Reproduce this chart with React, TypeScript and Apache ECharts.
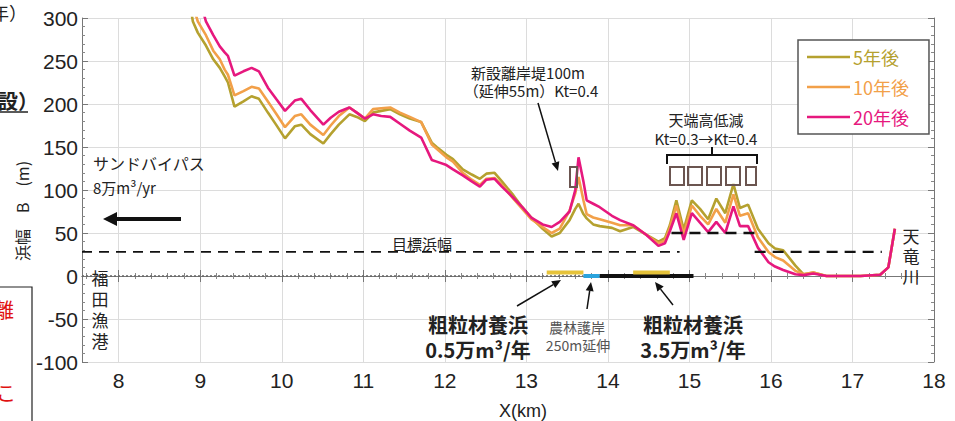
import React, { useEffect, useRef } from "react";
import * as echarts from "echarts";

// Distance along coast X (km)
const xKm = [
  8.85, 8.91, 8.97, 9.07, 9.16, 9.24, 9.3, 9.34, 9.42, 9.53, 9.63, 9.72, 9.83, 9.93, 10.04, 10.16, 10.24, 10.35,
  10.51, 10.6, 10.7, 10.83, 10.92, 11.02, 11.12, 11.22, 11.33, 11.45, 11.57, 11.71, 11.84, 11.9, 12.02, 12.1,
  12.22, 12.33, 12.43, 12.51, 12.61, 12.7, 12.84, 12.95, 13.06, 13.2, 13.31, 13.41, 13.53, 13.6, 13.64, 13.7,
  13.74, 13.82, 13.9, 14.05, 14.15, 14.31, 14.47, 14.62, 14.7, 14.76, 14.84, 14.93, 15.03, 15.13, 15.23, 15.33,
  15.44, 15.54, 15.62, 15.72, 15.84, 15.97, 16.05, 16.15, 16.3, 16.4, 16.52, 16.68, 16.9, 17.1, 17.34, 17.44, 17.52,
];
// Beach width B (m)
const after5 = [
  330, 296, 283, 268, 252, 242, 232, 225, 197, 203, 209, 206, 190, 176, 160, 174, 176, 165,
  154, 165, 176, 188, 185, 180, 190, 192, 194, 188, 183, 179, 155, 150, 141, 136,
  124, 118, 113, 119, 120, 110, 94, 80, 68, 55, 46, 50, 65, 78, 84, 72,
  67, 60, 58, 56, 52, 57, 48, 40, 44, 59, 88, 54, 88, 78, 66, 90,
  73, 107, 79, 83, 55, 38, 32, 30, 12, 2, 4, 0, 0, 0, 1.5, 10, 55,
];
const after10 = [
  340, 315, 296, 280, 262, 252, 240, 234, 210, 215, 220, 218, 203, 189, 173, 186, 188, 176,
  164, 175, 186, 196, 190, 183, 194, 195, 196, 190, 185, 179, 153, 148, 138, 133,
  120, 112, 106, 113, 114, 106, 90, 78, 66, 57, 50, 55, 76, 96, 115, 88,
  72, 68, 66, 62, 59, 59, 48, 38, 41, 56, 82, 48, 82, 70, 60, 78,
  62, 95, 70, 73, 45, 28, 22, 18, 6, 2, 4, 0, 0, 0, 1.5, 10, 55,
];
const after20 = [
  360, 345, 330, 296, 280, 267, 260, 256, 233, 238, 242, 238, 219, 206, 192, 204, 206, 193,
  176, 184, 191, 196, 190, 183, 188, 186, 185, 177, 169, 161, 135, 133, 129, 124,
  117, 110, 104, 112, 113, 104, 91, 80, 68, 60, 57, 63, 75, 100, 138, 110,
  88, 84, 80, 70, 65, 59, 48, 35, 38, 52, 73, 42, 73, 62, 51, 63,
  50, 81, 58, 58, 33, 16, 11, 7, 2, 1, 3, 0, 0, 0, 1.5, 10, 55,
];

// Reference lines / coastal works [X(km), B(m)]
const targetWest = [[7.55, 28], [14.88, 28]];
const targetRaised = [[14.78, 50], [15.8, 50]];
const targetEast = [[15.8, 28], [17.36, 28]];
const shoreDotted = [[7.55, 0], [13.7, 0]];
const nourishWest = [[13.25, 4], [13.7, 4]];
const revetmentExt = [[13.7, 0], [13.9, 0]];
const structureLine = [[13.9, 0], [15.05, 0]];
const nourishEast = [[14.31, 4], [14.76, 4]];

const seriesNames = ["5年後", "10年後", "20年後"];
const seriesColors = ["#B5A12F", "#F2A049", "#E6187E"];

const JP = "'Noto Sans CJK JP', 'Noto Sans', sans-serif";
const NUM = "'Liberation Sans Narrow', 'Liberation Sans', Arial, sans-serif";

function txt(text: string, x: number, y: number, o: any = {}) {
  return {
    type: "text",
    x,
    y,
    z: 100,
    rotation: o.rotation || 0,
    style: {
      text,
      fill: o.color || "#222",
      fontSize: o.size || 15,
      fontFamily: o.family || JP,
      fontWeight: o.weight || "normal",
      align: o.align || "center",
      verticalAlign: "middle",
    },
  };
}

function arrow(x1: number, y1: number, x2: number, y2: number, w: number, hl: number, hw: number, color = "#111") {
  const a = Math.atan2(y2 - y1, x2 - x1);
  const c = Math.cos(a);
  const s = Math.sin(a);
  const bx = x2 - hl * c;
  const by = y2 - hl * s;
  return [
    { type: "line", z: 100, shape: { x1, y1, x2: bx, y2: by }, style: { stroke: color, lineWidth: w } },
    {
      type: "polygon",
      z: 100,
      shape: { points: [[x2, y2], [bx - s * hw, by + c * hw], [bx + s * hw, by - c * hw]] },
      style: { fill: color },
    },
  ];
}

function boxRect(x: number, y: number, w: number, h: number, color = "#6b5550", lw = 2) {
  return { type: "rect", z: 100, shape: { x, y, width: w, height: h }, style: { fill: "none", stroke: color, lineWidth: lw } };
}

function vertical(chars: string[], x: number, y0: number, step: number, size: number) {
  return chars.map((ch, i) => txt(ch, x, y0 + i * step, { size }));
}

export default function App() {
  const ref = useRef<HTMLDivElement>(null);

  useEffect(() => {
    if (!ref.current) return;
    const chart = echarts.init(ref.current, null, { renderer: "svg" });

    const lineSeries = [after5, after10, after20].map((vals, i) => ({
      name: seriesNames[i],
      type: "line",
      data: xKm.map((x, j) => [x, vals[j]]),
      symbol: "none",
      lineStyle: { width: 2.6, color: seriesColors[i] },
      itemStyle: { color: seriesColors[i] },
      z: 3 + i,
    }));

    const seg = (name: string, data: number[][], color: string, width: number, type: any = "solid", z = 8) => ({
      name,
      type: "line",
      data,
      symbol: "none",
      silent: true,
      lineStyle: { width, color, type },
      z,
    });

    const xAxisBase = {
      type: "value",
      min: 7.55,
      max: 18,
      splitNumber: 10,
      axisLine: { show: true, lineStyle: { color: "#777", width: 1 } },
      axisTick: { show: true, inside: true, length: 6, lineStyle: { color: "#777" } },
      minorTick: { show: true, splitNumber: 5, length: 3, lineStyle: { color: "#888" } },
    };
    const yAxisBase = {
      type: "value",
      min: -100,
      max: 300,
      interval: 50,
      axisLine: { show: true, lineStyle: { color: "#777", width: 1 } },
      axisTick: { show: true, inside: true, length: 6, lineStyle: { color: "#777" } },
      minorTick: { show: true, splitNumber: 5, length: 3, lineStyle: { color: "#888" } },
    };

    const graphics: any[] = [
      // cut-off slide content on the left edge
      txt("年）", -9, 12, { size: 18, align: "left" }),
      txt("設）", -2, 100, { size: 20, weight: "bold", align: "left" }),
      { type: "line", z: 100, shape: { x1: 0, y1: 112, x2: 28, y2: 112 }, style: { stroke: "#222", lineWidth: 1.5 } },
      { type: "polyline", z: 100, shape: { points: [[0, 287], [32, 287], [32, 421]] }, style: { stroke: "#222", lineWidth: 1.2, fill: "none" } },
      txt("離", -6, 309, { size: 20, color: "#E01010", align: "left" }),
      txt("こ", -4, 392, { size: 20, color: "#E01010", align: "left" }),
      // y-axis title
      txt("浜幅　B　(m)", 22, 211, { size: 16, rotation: Math.PI / 2 }),
      txt("X(km)", 523, 411, { size: 18, family: NUM }),
      // sand bypass
      txt("サンドバイパス", 93, 163, { size: 16, align: "left" }),
      txt("8万m³/yr", 93, 187, { size: 15, align: "left" }),
      ...arrow(181, 219, 103, 219, 4, 14, 7),
      txt("目標浜幅", 392, 243, { size: 15, align: "left" }),
      // harbour / river labels (vertical writing)
      ...vertical(["福", "田", "漁", "港"], 100, 277, 21, 17),
      ...vertical(["天", "竜", "川"], 911, 235, 20, 17),
      // new detached breakwater
      txt("新設離岸堤100m", 528, 72, { size: 15 }),
      txt("（延伸55m）Kt=0.4", 531, 90, { size: 15 }),
      ...arrow(538, 103, 558, 171, 1.5, 9, 4),
      boxRect(570, 167, 7, 20),
      // crest height reduction
      txt("天端高低減", 706, 119, { size: 15 }),
      txt("Kt=0.3→Kt=0.4", 706, 138, { size: 15 }),
      { type: "polyline", z: 100, shape: { points: [[667, 164], [667, 155], [757, 155], [757, 164]] }, style: { stroke: "#111", lineWidth: 2, fill: "none" } },
      { type: "line", z: 100, shape: { x1: 712, y1: 155, x2: 712, y2: 147 }, style: { stroke: "#111", lineWidth: 2 } },
      boxRect(670, 167, 14, 18),
      boxRect(688, 167, 14, 18),
      boxRect(707, 167, 14, 18),
      boxRect(726, 167, 14, 18),
      boxRect(746, 167, 10, 18),
      // bottom annotations
      txt("粗粒材養浜", 478, 324, { size: 20, weight: "bold" }),
      txt("0.5万m³/年", 478, 349, { size: 20, weight: "bold" }),
      txt("農林護岸", 577, 327, { size: 14, color: "#555" }),
      txt("250m延伸", 578, 345, { size: 14, color: "#555" }),
      txt("粗粒材養浜", 693, 324, { size: 20, weight: "bold" }),
      txt("3.5万m³/年", 693, 349, { size: 20, weight: "bold" }),
      ...arrow(517, 306, 561, 280, 1.5, 9, 4),
      ...arrow(587, 309, 591, 282, 1.5, 9, 4),
      ...arrow(673, 305, 655, 282, 1.5, 9, 4),
    ];

    chart.setOption({
      animation: false,
      backgroundColor: "#fff",
      grid: { left: 82, right: 21, top: 18, bottom: 59, containLabel: false },
      legend: {
        data: seriesNames.map((n, i) => ({ name: n, textStyle: { color: seriesColors[i] } })),
        icon: "rect",
        orient: "vertical",
        left: 798,
        top: 40,
        itemWidth: 43,
        itemHeight: 2.5,
        itemGap: 10,
        padding: [7, 20, 7, 9],
        borderColor: "#555",
        borderWidth: 1.5,
        backgroundColor: "#fff",
        textStyle: { fontSize: 18, fontFamily: JP, lineHeight: 20, padding: [0, 0, 0, -2] },
        selectedMode: false,
        z: 20,
      },
      xAxis: [
        {
          ...xAxisBase,
          position: "bottom",
          splitLine: { show: true, lineStyle: { color: "#dcdcdc", width: 1 } },
          axisLabel: {
            show: true,
            margin: 8,
            fontSize: 21,
            fontFamily: NUM,
            color: "#222",
            formatter: (v: number) => (Math.abs(v - Math.round(v)) < 1e-6 ? String(Math.round(v)) : ""),
          },
        },
        { ...xAxisBase, position: "top", splitLine: { show: false }, axisLabel: { show: false } },
      ],
      yAxis: [
        {
          ...yAxisBase,
          position: "left",
          splitLine: { show: true, lineStyle: { color: "#dcdcdc", width: 1 } },
          axisLabel: { show: true, margin: 4, fontSize: 21, fontFamily: NUM, color: "#222" },
        },
        { ...yAxisBase, position: "right", splitLine: { show: false }, axisLabel: { show: false } },
      ],
      series: [
        ...lineSeries,
        seg("目標浜幅", targetWest, "#111", 1.6, [10, 7]),
        seg("目標浜幅（嵩上げ）", targetRaised, "#111", 2.4, [11, 7]),
        seg("目標浜幅（東）", targetEast, "#111", 2.4, [11, 7]),
        seg("汀線", shoreDotted, "#666", 1.6, [2, 2]),
        seg("粗粒材養浜（西）", nourishWest, "#E6C33A", 4),
        seg("農林護岸延伸", revetmentExt, "#2AA3DD", 4),
        seg("構造物", structureLine, "#111", 4),
        seg("粗粒材養浜（東）", nourishEast, "#E6C33A", 4, "solid", 9),
      ],
      graphic: graphics,
    });

    return () => chart.dispose();
  }, []);

  return (
    <div
      ref={ref}
      style={{ position: "fixed", left: 0, top: 0, width: 955, height: 421, background: "#fff" }}
    />
  );
}
